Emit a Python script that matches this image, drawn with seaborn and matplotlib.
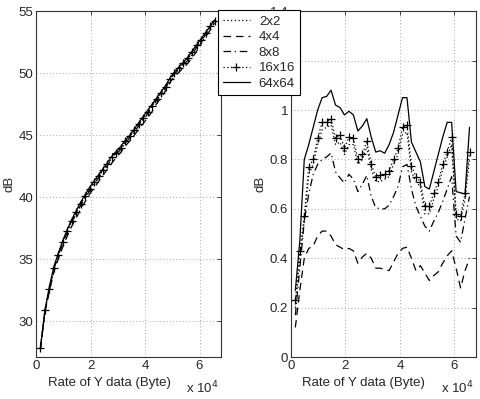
import numpy as np
import pandas as pd
import matplotlib
matplotlib.use("Agg")
import matplotlib.pyplot as plt
import seaborn as sns
from matplotlib.ticker import FormatStrFormatter

sns.set_style("white")
plt.rcParams['font.family'] = ['Liberation Sans', 'DejaVu Sans']

# rate of Y data in bytes (40 points)
rate = [1638, 3277, 4915, 6554, 8192, 9830, 11469, 13107, 14746, 16384,
        18022, 19661, 21299, 22938, 24576, 26214, 27853, 29491, 31130, 32768,
        34406, 36045, 37683, 39322, 40960, 42598, 44237, 45875, 47514, 49152,
        50790, 52429, 54067, 55706, 57344, 58982, 60621, 62259, 63898, 65536]

# PSNR (dB) for 64x64 blocks, left panel
psnr_64 = [27.9, 30.9, 32.8, 34.4, 35.5, 36.5, 37.4, 38.2, 38.9, 39.6,
           40.2, 40.8, 41.3, 41.8, 42.3, 42.8, 43.3, 43.7, 44.1, 44.6,
           45.0, 45.5, 46.0, 46.5, 47.0, 47.5, 48.0, 48.5, 49.0, 49.6,
           50.1, 50.5, 50.9, 51.3, 51.8, 52.3, 52.8, 53.3, 53.8, 54.3]

# gain (dB), right panel
gain_2 = [0.20, 0.40, 0.55, 0.74, 0.78, 0.86, 0.92, 0.93, 0.94, 0.86,
          0.87, 0.82, 0.86, 0.86, 0.78, 0.80, 0.85, 0.76, 0.71, 0.71,
          0.72, 0.73, 0.78, 0.82, 0.90, 0.91, 0.75, 0.71, 0.69, 0.58,
          0.58, 0.64, 0.69, 0.76, 0.81, 0.86, 0.56, 0.55, 0.64, 0.80]
gain_4 = [0.12, 0.27, 0.40, 0.44, 0.45, 0.49, 0.51, 0.51, 0.49, 0.455,
          0.445, 0.435, 0.44, 0.43, 0.38, 0.405, 0.42, 0.40, 0.36, 0.36,
          0.355, 0.35, 0.385, 0.42, 0.44, 0.445, 0.40, 0.35, 0.37, 0.34,
          0.31, 0.33, 0.345, 0.38, 0.41, 0.43, 0.36, 0.28, 0.35, 0.40]
gain_8 = [0.17, 0.36, 0.55, 0.66, 0.74, 0.78, 0.80, 0.81, 0.826, 0.75,
          0.725, 0.705, 0.74, 0.72, 0.67, 0.70, 0.735, 0.65, 0.605, 0.60,
          0.60, 0.615, 0.65, 0.69, 0.77, 0.78, 0.68, 0.61, 0.57, 0.53,
          0.51, 0.55, 0.585, 0.63, 0.68, 0.73, 0.49, 0.465, 0.56, 0.65]
gain_16 = [0.23, 0.43, 0.57, 0.77, 0.80, 0.885, 0.95, 0.95, 0.965, 0.885,
           0.90, 0.845, 0.89, 0.885, 0.80, 0.82, 0.875, 0.78, 0.73, 0.735,
           0.74, 0.755, 0.80, 0.845, 0.93, 0.94, 0.775, 0.73, 0.71, 0.61,
           0.61, 0.665, 0.71, 0.78, 0.83, 0.89, 0.58, 0.57, 0.665, 0.83]
gain_64 = [0.27, 0.47, 0.80, 0.86, 0.93, 1.00, 1.05, 1.055, 1.08, 1.02,
           1.01, 0.98, 0.995, 0.98, 0.915, 0.935, 0.965, 0.89, 0.83, 0.835,
           0.825, 0.86, 0.91, 0.98, 1.05, 1.05, 0.87, 0.83, 0.79, 0.69,
           0.68, 0.75, 0.82, 0.89, 0.95, 0.95, 0.67, 0.665, 0.66, 0.93]

labels = ["2x2", "4x4", "8x8", "16x16", "64x64"]
gains = dict(zip(labels, [gain_2, gain_4, gain_8, gain_16, gain_64]))
styles = {"2x2": dict(ls=(0, (1, 2)), marker=None),
          "4x4": dict(ls=(0, (6, 4)), marker=None),
          "8x8": dict(ls=(0, (6, 3, 1, 3)), marker=None),
          "16x16": dict(ls=(0, (1, 2)), marker="+"),
          "64x64": dict(ls="-", marker=None)}

# psnr of each block size = baseline + gain
base = np.array(psnr_64) - np.array(gain_64)
rows = []
for lab in labels:
    for r, g, b in zip(rate, gains[lab], base):
        rows.append(dict(size=lab, rate=r, gain=g, psnr=b + g))
df = pd.DataFrame(rows)

FS = 9.5
fig = plt.figure(figsize=(4.8, 3.99), dpi=100)
ax1 = fig.add_axes([0.075, 0.105, 0.385, 0.867])
ax2 = fig.add_axes([0.606, 0.105, 0.385, 0.867])

for ax, col in [(ax1, "psnr"), (ax2, "gain")]:
    for lab in labels:
        st = styles[lab]
        sns.lineplot(data=df[df["size"] == lab], x="rate", y=col, ax=ax,
                     color="k", lw=0.9, linestyle=st["ls"], marker=st["marker"],
                     markersize=6, markeredgewidth=0.9, markeredgecolor="k",
                     label=lab, legend=False)
    ax.set_xlim(0, 67800)
    ax.set_xticks([0, 20000, 40000, 60000])
    ax.set_xticklabels(["0", "2", "4", "6"])
    ax.set_xlabel("Rate of Y data (Byte)", fontsize=FS)
    ax.xaxis.set_label_coords(0.395, -0.058)
    ax.xaxis.label.set_va("top")
    ax.set_ylabel("dB", fontsize=FS, labelpad=2)
    ax.grid(True, ls=(0, (1, 3)), color="#888888", lw=0.6)
    ax.tick_params(direction="in", top=True, right=True, labelsize=FS,
                   length=3, width=0.6, pad=2)
    for s in ax.spines.values():
        s.set_color("#333333")
        s.set_linewidth(0.8)
    ax.text(0.99, -0.066, r"x 10$^4$", transform=ax.transAxes, fontsize=FS,
            ha="right", va="top")

ax1.set_ylim(27.1, 55)
ax1.set_yticks([30, 35, 40, 45, 50, 55])
ax2.set_ylim(0, 1.4)
ax2.set_yticks(np.arange(0, 1.41, 0.2))
ax2.yaxis.set_major_formatter(FormatStrFormatter("%g"))

handles, _ = ax2.get_legend_handles_labels()
leg = fig.legend(handles, labels, loc="upper left", bbox_to_anchor=(0.454, 0.974),
                 fontsize=FS, frameon=True, fancybox=False, framealpha=1,
                 edgecolor="k", handlelength=2.0, handletextpad=0.7,
                 labelspacing=0.25, borderpad=0.4, borderaxespad=0)
leg.get_frame().set_linewidth(0.8)

plt.savefig("out.png", dpi=100)
